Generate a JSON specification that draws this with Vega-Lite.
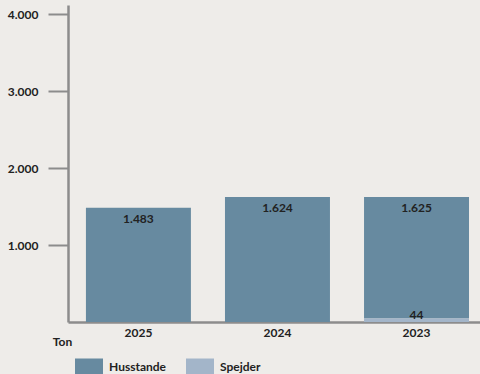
{
  "$schema": "https://vega.github.io/schema/vega-lite/v6.json",
  "width": 412,
  "height": 317,
  "autosize": {"type": "none"},
  "padding": {"left": 68, "top": 5, "right": 0, "bottom": 52},
  "background": "#eeece9",
  "data": {
    "values": [
      {"year": "2025", "type": "Husstande", "value": 1483},
      {"year": "2024", "type": "Husstande", "value": 1624},
      {"year": "2023", "type": "Husstande", "value": 1581},
      {"year": "2023", "type": "Spejder", "value": 44}
    ]
  },
  "encoding": {
    "x": {
      "field": "year", "type": "nominal", "sort": "descending",
      "scale": {"paddingInner": 0.245, "paddingOuter": 0.104, "align": 0.62},
      "axis": {"title": null, "labelAngle": 0, "ticks": false, "labelPadding": 5,
               "domainColor": "#8c8c8c", "domainWidth": 2.5}
    }
  },
  "layer": [
    {
      "mark": {"type": "bar"},
      "encoding": {
        "y": {
          "field": "value", "type": "quantitative", "stack": "zero",
          "scale": {"domain": [0, 4117], "nice": false},
          "axis": {"values": [1000, 2000, 3000, 4000], "format": ",d", "grid": false,
                   "tickSize": 20, "tickWidth": 2, "tickColor": "#8c8c8c",
                   "domainColor": "#8c8c8c", "domainWidth": 2.5, "labelPadding": 10,
                   "title": "Ton", "titleAngle": 0, "titleX": -6, "titleY": 336,
                   "titleAlign": "center", "titleBaseline": "middle"}
        },
        "color": {
          "field": "type", "type": "nominal",
          "scale": {"domain": ["Husstande", "Spejder"], "range": ["#678aa0", "#a3b5c9"]},
          "legend": {"title": null, "orient": "none", "legendX": 7, "legendY": 348,
                     "direction": "horizontal",
                     "symbolType": "M-1,-0.643L1,-0.643L1,0.643L-1,0.643Z",
                     "symbolSize": 784, "symbolStrokeWidth": 0, "labelOffset": 6,
                     "columnPadding": 20}
        },
        "order": {"field": "type", "sort": "descending"}
      }
    },
    {
      "transform": [{"aggregate": [{"op": "sum", "field": "value", "as": "total"}], "groupby": ["year"]}],
      "mark": {"type": "text", "baseline": "top", "dy": 6},
      "encoding": {
        "y": {"field": "total", "type": "quantitative"},
        "text": {"field": "total", "type": "quantitative", "format": ",d"}
      }
    },
    {
      "transform": [{"filter": "datum.type === 'Spejder'"}],
      "mark": {"type": "text", "baseline": "alphabetic", "dy": 0},
      "encoding": {
        "y": {"field": "value", "type": "quantitative"},
        "text": {"field": "value", "type": "quantitative", "format": ",d"}
      }
    }
  ],
  "config": {
    "locale": {"number": {"decimal": ",", "thousands": ".", "grouping": [3], "currency": ["", " kr."]}},
    "view": {"stroke": null},
    "font": "Lato",
    "text": {"font": "Lato", "fontWeight": "bold", "fontSize": 12, "color": "#222222"},
    "axis": {"labelFont": "Lato", "labelFontWeight": "bold", "labelFontSize": 12, "labelColor": "#222222",
             "titleFont": "Lato", "titleFontWeight": "bold", "titleFontSize": 12, "titleColor": "#222222"},
    "legend": {"labelFont": "Lato", "labelFontWeight": "bold", "labelFontSize": 12, "labelColor": "#222222"}
  }
}
